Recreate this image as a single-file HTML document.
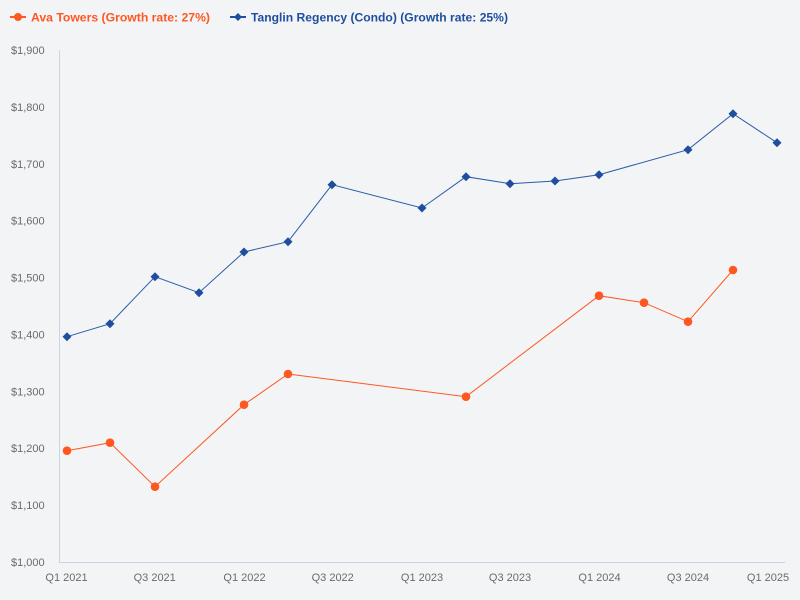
<!DOCTYPE html>
<html><head><meta charset="utf-8"><style>
html,body{margin:0;padding:0;background:#f3f4f6;}
svg{display:block;font-family:"Liberation Sans",sans-serif;}
</style></head><body>
<svg width="800" height="600" viewBox="0 0 800 600" xmlns="http://www.w3.org/2000/svg">
<rect width="800" height="600" fill="#f3f4f6"/>
<!-- legend -->
<line x1="10" y1="17" x2="26" y2="17" stroke="#ff5722" stroke-width="2"/>
<circle cx="18" cy="17" r="4" fill="#ff5722"/>
<text x="31" y="21.5" font-size="12" font-weight="bold" fill="#ff5722" textLength="179" lengthAdjust="spacingAndGlyphs">Ava Towers (Growth rate: 27%)</text>
<line x1="230" y1="17" x2="246" y2="17" stroke="#1f4e9e" stroke-width="2"/>
<path d="M238 13 L242 17 L238 21 L234 17 Z" fill="#1f4e9e"/>
<text x="251" y="21.5" font-size="12" font-weight="bold" fill="#1f4e9e" textLength="257" lengthAdjust="spacingAndGlyphs">Tanglin Regency (Condo) (Growth rate: 25%)</text>
<!-- axes -->
<line x1="59.5" y1="50" x2="59.5" y2="562" stroke="#c9d5e6" stroke-width="1"/>
<line x1="59" y1="562.5" x2="785" y2="562.5" stroke="#c9d5e6" stroke-width="1"/>
<!-- y labels -->
<g font-size="11" fill="#6b6b6b">
<text x="11" y="54">$1,900</text>
<text x="11" y="110.9">$1,800</text>
<text x="11" y="167.8">$1,700</text>
<text x="11" y="224.7">$1,600</text>
<text x="11" y="281.6">$1,500</text>
<text x="11" y="338.4">$1,400</text>
<text x="11" y="395.3">$1,300</text>
<text x="11" y="452.2">$1,200</text>
<text x="11" y="509.1">$1,100</text>
<text x="11" y="566">$1,000</text>
</g>
<!-- x labels -->
<g font-size="11" fill="#6b6b6b" text-anchor="middle">
<text x="66.5" y="581">Q1 2021</text>
<text x="154.7" y="581">Q3 2021</text>
<text x="244.5" y="581">Q1 2022</text>
<text x="332.7" y="581">Q3 2022</text>
<text x="422" y="581">Q1 2023</text>
<text x="510" y="581">Q3 2023</text>
<text x="599.5" y="581">Q1 2024</text>
<text x="688" y="581">Q3 2024</text>
<text x="768" y="581">Q1 2025</text>
</g>
<!-- Tanglin series -->
<polyline fill="none" stroke="#2a5aa8" stroke-width="1" points="67,336.7 110,323.7 155,276.7 199,292.7 244,252 288,241.7 332,184.7 422,208 466,176.7 510,183.7 555,181 599,174.7 688,149.7 733,113.7 777,142.7"/>
<g fill="#1f4e9e">
<path d="M67 332.2l4.5 4.5-4.5 4.5-4.5-4.5z"/>
<path d="M110 319.2l4.5 4.5-4.5 4.5-4.5-4.5z"/>
<path d="M155 272.2l4.5 4.5-4.5 4.5-4.5-4.5z"/>
<path d="M199 288.2l4.5 4.5-4.5 4.5-4.5-4.5z"/>
<path d="M244 247.5l4.5 4.5-4.5 4.5-4.5-4.5z"/>
<path d="M288 237.2l4.5 4.5-4.5 4.5-4.5-4.5z"/>
<path d="M332 180.2l4.5 4.5-4.5 4.5-4.5-4.5z"/>
<path d="M422 203.5l4.5 4.5-4.5 4.5-4.5-4.5z"/>
<path d="M466 172.2l4.5 4.5-4.5 4.5-4.5-4.5z"/>
<path d="M510 179.2l4.5 4.5-4.5 4.5-4.5-4.5z"/>
<path d="M555 176.5l4.5 4.5-4.5 4.5-4.5-4.5z"/>
<path d="M599 170.2l4.5 4.5-4.5 4.5-4.5-4.5z"/>
<path d="M688 145.2l4.5 4.5-4.5 4.5-4.5-4.5z"/>
<path d="M733 109.2l4.5 4.5-4.5 4.5-4.5-4.5z"/>
<path d="M777 138.2l4.5 4.5-4.5 4.5-4.5-4.5z"/>
</g>
<!-- Ava series -->
<polyline fill="none" stroke="#ff5722" stroke-width="1" points="67,450.7 110,442.7 155,486.7 244,404.7 288,374 466,396.7 599,295.7 644,302.7 688,321.7 733,270"/>
<g fill="#ff5722">
<circle cx="67" cy="450.7" r="4.3"/>
<circle cx="110" cy="442.7" r="4.3"/>
<circle cx="155" cy="486.7" r="4.3"/>
<circle cx="244" cy="404.7" r="4.3"/>
<circle cx="288" cy="374" r="4.3"/>
<circle cx="466" cy="396.7" r="4.3"/>
<circle cx="599" cy="295.7" r="4.3"/>
<circle cx="644" cy="302.7" r="4.3"/>
<circle cx="688" cy="321.7" r="4.3"/>
<circle cx="733" cy="270" r="4.3"/>
</g>
</svg>
</body></html>
